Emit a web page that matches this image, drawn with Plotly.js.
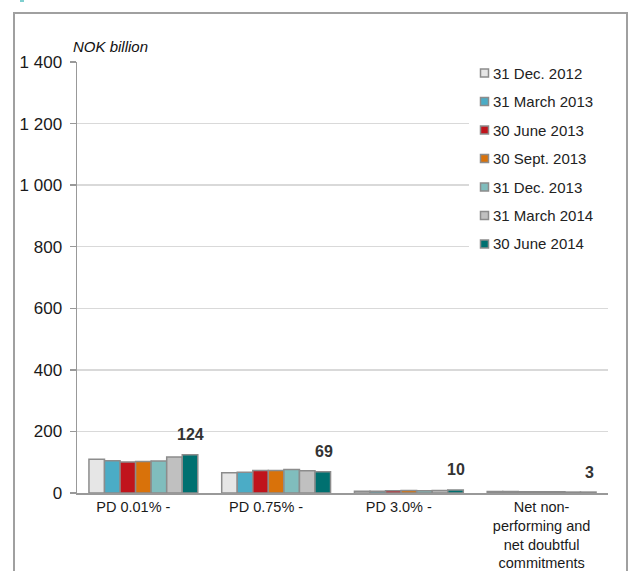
<!DOCTYPE html>
<html>
<head>
<meta charset="utf-8">
<script src="https://cdn.plot.ly/plotly-3.0.1.min.js"></script>
<style>
  html, body { margin: 0; padding: 0; background: #fff; }
  #chart { width: 630px; height: 571px; }
</style>
</head>
<body>
<div id="chart"></div>
<script>
// Loan exposure by probability-of-default band, NOK billion
const NB = "\u00a0\u00a0\u00a0\u00a0\u00a0";
const categories = [
  "PD 0.01% -" + NB,
  "PD 0.75% -" + NB,
  "PD 3.0% -" + NB,
  "Net non-<br>performing and<br>net doubtful<br>commitments"
];

const seriesNames = [
  "31 Dec. 2012",
  "31 March 2013",
  "30 June 2013",
  "30 Sept. 2013",
  "31 Dec. 2013",
  "31 March 2014",
  "30 June 2014"
];

const dec2012 = [110, 66, 6, 5];
const mar2013 = [105, 67, 6, 5];
const jun2013 = [101, 73, 7, 4];
const sep2013 = [102, 73, 8, 4];
const dec2013 = [104, 76, 7, 4];
const mar2014 = [117, 72, 8, 3];
const jun2014 = [124, 69, 10, 3];

const seriesValues = [dec2012, mar2013, jun2013, sep2013, dec2013, mar2014, jun2014];

const seriesColors = ["#e6e6e6", "#4bacc6", "#c0141c", "#d9720a", "#80bdbd", "#c0c0c0", "#007070"];

const yTicks = [0, 200, 400, 600, 800, 1000, 1200, 1400];
const yTickText = ["0", "200", "400", "600", "800", "1 000", "1 200", "1 400"];

const FONT = "Liberation Sans, Arial, sans-serif";
const OUTLINE = "#8c8c8c";

// plot area in pixels, used to place the legend box and frame
const W = 630, H = 571;
const M = { l: 77, r: 22, t: 62, b: 78 };
const PW = W - M.l - M.r, PH = H - M.t - M.b;
const px = x => (x - M.l) / PW;
const py = y => (H - M.b - y) / PH;

const traces = seriesNames.map((name, i) => ({
  type: "bar",
  name: name,
  x: categories,
  y: seriesValues[i],
  showlegend: false,
  marker: { color: seriesColors[i], line: { color: OUTLINE, width: 1.5 } },
  hoverinfo: "x+y+name"
}));

// value labels above the latest series
const latest = seriesValues[seriesValues.length - 1];
const annotations = categories.map((c, i) => ({
  x: c, y: latest[i], xref: "x", yref: "y",
  text: "<b>" + latest[i] + "</b>",
  showarrow: false,
  xshift: 47.5, yshift: 20,
  font: { family: FONT, size: 16, color: "#333333" }
}));

annotations.push({
  x: px(71), y: py(47), xref: "paper", yref: "paper",
  xanchor: "left", yanchor: "middle",
  text: "<i>NOK billion</i>", showarrow: false,
  font: { family: FONT, size: 15, color: "#111111" }
});

const shapes = [
  // outer frame
  {
    type: "rect", xref: "paper", yref: "paper",
    x0: px(14), x1: px(627), y0: py(580), y1: py(13),
    line: { color: "#a0a0a0", width: 2 }, fillcolor: "rgba(0,0,0,0)", layer: "below"
  },
  // small accent at the top left corner
  {
    type: "rect", xref: "paper", yref: "paper",
    x0: px(20), x1: px(24), y0: py(2), y1: py(0),
    line: { width: 0 }, fillcolor: "#7fcfcf"
  },
  // legend background
  {
    type: "rect", xref: "paper", yref: "paper",
    x0: px(469), x1: px(609), y0: py(258), y1: py(58),
    line: { width: 0 }, fillcolor: "#ffffff", layer: "above"
  }
];

// legend entries
const legendTop = 73, legendStep = 28.5, boxSize = 8, boxLeft = 480.5;
seriesNames.forEach((name, i) => {
  const cy = legendTop + i * legendStep;
  shapes.push({
    type: "rect", xref: "paper", yref: "paper",
    x0: px(boxLeft), x1: px(boxLeft + boxSize),
    y0: py(cy + boxSize / 2), y1: py(cy - boxSize / 2),
    line: { color: OUTLINE, width: 1.5 }, fillcolor: seriesColors[i], layer: "above"
  });
  annotations.push({
    x: px(491), y: py(cy), xref: "paper", yref: "paper",
    xanchor: "left", yanchor: "middle",
    text: name, showarrow: false,
    font: { family: FONT, size: 15, color: "#222222" }
  });
});

const layout = {
  width: W, height: H,
  margin: M,
  paper_bgcolor: "#ffffff",
  plot_bgcolor: "#ffffff",
  font: { family: FONT, size: 15, color: "#1a1a1a" },
  barmode: "group",
  bargap: 0.18,
  bargroupgap: 0,
  showlegend: false,
  xaxis: {
    type: "category",
    showgrid: false,
    showline: true, linecolor: "#999999", linewidth: 1.5,
    ticks: "", tickfont: { family: FONT, size: 14.5, color: "#1a1a1a" },
    fixedrange: true
  },
  yaxis: {
    range: [0, 1400],
    tickvals: yTicks, ticktext: yTickText,
    showgrid: true, gridcolor: "#d9d9d9", gridwidth: 1.5,
    zeroline: false,
    showline: true, linecolor: "#999999", linewidth: 1.5,
    ticks: "outside", ticklen: 6, tickcolor: "#999999", tickwidth: 1.5,
    ticklabelstandoff: 4,
    tickfont: { family: FONT, size: 17, color: "#1a1a1a" },
    fixedrange: true
  },
  annotations: annotations,
  shapes: shapes
};

Plotly.newPlot("chart", traces, layout, { displayModeBar: false, staticPlot: true });
</script>
</body>
</html>
